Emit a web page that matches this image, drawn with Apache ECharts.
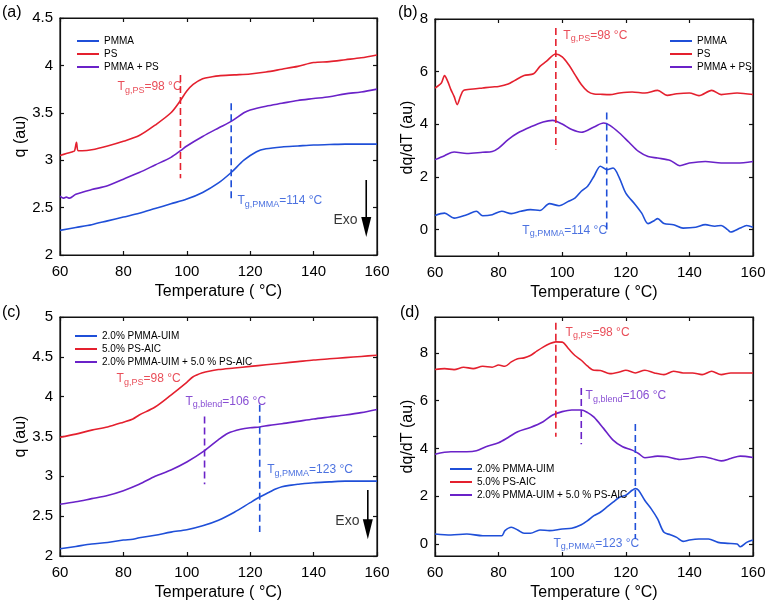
<!DOCTYPE html>
<html><head><meta charset="utf-8">
<script src="https://cdn.jsdelivr.net/npm/echarts@6/dist/echarts.min.js"></script>
<style>html,body{margin:0;padding:0;background:#fff}.c{width:769px;height:609px}</style>
</head><body><div class="c" id="c"></div>
<script>
// ---------- DATA ----------
const tempTicks = [60, 80, 100, 120, 140, 160];
const derivTicks = [0, 2, 4, 6, 8];
const seriesNamesAB = ['PMMA', 'PS', 'PMMA + PS'];
const seriesNamesCD = ['2.0% PMMA-UIM', '5.0% PS-AIC', '2.0% PMMA-UIM + 5.0 % PS-AIC'];

// (a) q vs T
const aPS_T = [60,62,64,64.6,65.2,65.7,67,70,75,80,85,90,95,98,100,102,105,108,110,115,120,125,130,135,140,145,150,155,160];
const aPS_q = [3.05,3.07,3.09,3.10,3.19,3.10,3.10,3.11,3.15,3.20,3.26,3.37,3.50,3.63,3.73,3.80,3.86,3.88,3.89,3.90,3.91,3.93,3.96,3.99,4.03,4.04,4.06,4.08,4.11];
const aBL_T = [60,61,62,63,65,70,75,80,85,90,95,98,100,105,110,114,118,120,125,130,135,140,145,150,155,160];
const aBL_q = [2.62,2.60,2.61,2.60,2.64,2.69,2.73,2.80,2.87,2.95,3.03,3.10,3.15,3.25,3.34,3.41,3.50,3.53,3.57,3.60,3.63,3.65,3.67,3.70,3.72,3.75];
const aPM_T = [60,65,70,75,80,85,90,95,100,105,110,114,118,122,125,130,135,140,145,150,155,160];
const aPM_q = [2.26,2.29,2.32,2.36,2.40,2.44,2.49,2.54,2.59,2.66,2.76,2.87,3.00,3.09,3.12,3.14,3.15,3.16,3.165,3.17,3.17,3.17];

// (b) dq/dT vs T
const bPS_T = [60,62,63,64,65,66,67,68,69,72,75,78,80,83,85,88,91,93,95,98,100,102,104,106,108,110,112,115,118,122,126,130,133,136,140,143,147,150,155,160];
const bPS_v = [5.38,5.57,5.85,5.63,5.32,5.06,4.75,5.06,5.29,5.34,5.38,5.42,5.44,5.53,5.66,5.85,5.92,6.20,6.39,6.67,6.56,6.27,5.89,5.51,5.25,5.15,5.14,5.13,5.19,5.23,5.19,5.29,5.10,5.16,5.19,5.09,5.29,5.13,5.19,5.13];
const bBL_T = [60,63,66,70,75,78,80,83,86,90,94,97,100,103,106,110,113,115,118,121,124,127,130,134,137,140,145,150,155,160];
const bBL_v = [2.66,2.81,2.95,2.89,2.94,2.97,3.10,3.42,3.67,3.90,4.09,4.15,4.01,3.80,3.70,3.90,4.05,3.96,3.67,3.32,2.97,2.78,2.72,2.63,2.43,2.53,2.59,2.53,2.53,2.59];
const bPM_T = [60,63,66,70,73,75,78,81,84,87,90,93,96,99,102,104,106,108,110,112,114,116,118,120,123,125,127,129,130,132,135,138,142,145,148,150,152,153,156,158,160];
const bPM_v = [0.54,0.63,0.44,0.57,0.70,0.53,0.57,0.70,0.61,0.70,0.76,0.73,0.99,0.91,1.08,1.20,1.46,1.65,2.03,2.41,2.28,2.34,1.96,1.39,0.95,0.63,0.23,0.35,0.42,0.23,0.19,0.06,0.09,0.19,0.13,0.16,0.0,-0.09,0.06,0.16,0.09];

// (c) q vs T
const cPS_T = [60,65,70,75,80,83,85,90,95,100,102,105,107,110,115,120,125,130,135,140,145,150,155,160];
const cPS_q = [3.49,3.53,3.58,3.62,3.68,3.72,3.77,3.87,4.02,4.18,4.25,4.30,4.32,4.34,4.36,4.38,4.40,4.42,4.44,4.46,4.475,4.49,4.505,4.52];
const cBL_T = [60,65,70,75,80,85,90,95,100,105.5,110,113,117,120,123,126,130,135,140,145,150,155,160];
const cBL_q = [2.65,2.68,2.72,2.76,2.82,2.90,3.00,3.08,3.18,3.32,3.46,3.54,3.59,3.61,3.62,3.64,3.66,3.69,3.72,3.745,3.77,3.80,3.84];
const cPM_T = [60,65,70,75,80,83,85,90,95,100,105,110,115,120,123,126,128,130,133,135,140,145,150,155,160];
const cPM_q = [2.09,2.12,2.15,2.17,2.20,2.21,2.23,2.26,2.30,2.33,2.38,2.45,2.55,2.67,2.74,2.80,2.84,2.87,2.89,2.90,2.92,2.93,2.94,2.94,2.94];

// (d) dq/dT vs T
const dPS_T = [60,63,66,69,72,75,78,80,82,84,86,88,90,92,94,96,98,100,102,104,106,108,110,112,115,118,120,123,126,129,132,135,138,141,144,147,150,153,156,160];
const dPS_v = [7.30,7.34,7.30,7.40,7.34,7.44,7.40,7.49,7.44,7.62,7.75,7.79,7.89,8.07,8.24,8.38,8.46,8.45,8.17,7.89,7.69,7.44,7.27,7.26,7.13,7.20,7.27,7.16,7.27,7.16,7.09,7.23,7.16,7.16,7.09,7.23,7.09,7.16,7.16,7.16];
const dBL_T = [60,65,70,73,76,80,83,86,90,94,97,100,103,106,108,110,113,116,119,122,124,126,130,133,137,140,144,147,150,153,156,160];
const dBL_v = [3.76,3.86,3.86,3.90,4.07,4.24,4.46,4.70,4.88,5.12,5.40,5.54,5.61,5.61,5.50,5.31,4.84,4.35,4.07,3.93,3.79,3.61,3.68,3.65,3.54,3.58,3.65,3.58,3.48,3.58,3.68,3.62];
const dPM_T = [60,65,70,75,79,81,82,84,86,88,90,93,96,100,103,106,108,110,112,114,116,118,120,122,123,124,126,128,130,132,134,136,138,140,143,146,149,152,155,156,158,160];
const dPM_v = [0.42,0.38,0.42,0.35,0.35,0.35,0.56,0.70,0.59,0.45,0.45,0.59,0.56,0.63,0.66,0.81,0.98,1.19,1.33,1.54,1.75,1.96,2.04,2.25,2.32,2.25,1.82,1.47,1.05,0.49,0.39,0.28,0.11,0.17,0.21,0.21,0.07,0.03,0.0,-0.11,0.07,0.17];

// Glass transition temperatures and marker extents [T, yTop, yBottom]
const aTgPS = [98, 3.90, 2.81];
const aTgPMMA = [114, 3.60, 2.59];
const bTgPS = [98, 7.66, 3.04];
const bTgPMMA = [114, 4.45, 0.0];
const cTgBlend = [105.6, 3.75, 2.90];
const cTgPMMA = [123, 3.90, 2.30];
const dTgPS = [98, 9.26, 4.49];
const dTgBlend = [106, 6.53, 4.18];
const dTgPMMA = [123, 5.02, 0.21];

// ---------- CHART ----------
const F = '"Liberation Sans", Arial, sans-serif';
const BLUE = '#1f4fd8', RED = '#e4202e', PURPLE = '#6a22c8', INK = '#111111';
const zip = (a, b) => a.map((x, i) => [x, b[i]]);

const grids = [
  {left: 60, top: 18, width: 317, height: 237},
  {left: 435, top: 19, width: 318, height: 237},
  {left: 60, top: 317, width: 317, height: 239},
  {left: 435, top: 317, width: 318, height: 239}
].map(g => Object.assign(g, {show: true, borderColor: INK, borderWidth: 1.2, backgroundColor: 'transparent'}));
const yCfg = [
  {min: 2, max: 4.5, interval: 0.5, name: 'q (au)', gap: 30},
  {min: -1, max: 8, custom: derivTicks, name: 'dq/dT (au)', gap: 17},
  {min: 2, max: 5, interval: 0.5, name: 'q (au)', gap: 30},
  {min: -0.5, max: 9.5, custom: derivTicks, name: 'dq/dT (au)', gap: 17}
];
const axLine = () => ({show: true, onZero: false, lineStyle: {color: INK, width: 1.2}});
const tickX = () => ({show: true, inside: true, length: 4, lineStyle: {color: INK, width: 1.2}});
const xAxis = [], yAxis = [];
grids.forEach((g, i) => {
  xAxis.push({gridIndex: i, type: 'value', min: tempTicks[0], max: tempTicks[tempTicks.length - 1], interval: 20,
    position: 'bottom', axisLine: axLine(), axisTick: tickX(),
    axisLabel: {show: true, fontSize: 15, color: '#000', margin: 9, fontFamily: F}, splitLine: {show: false},
    name: 'Temperature ( °C)', nameLocation: 'middle', nameGap: 29,
    nameTextStyle: {fontSize: 16, color: '#000', fontFamily: F}});
  xAxis.push({gridIndex: i, type: 'value', min: tempTicks[0], max: tempTicks[tempTicks.length - 1], interval: 20,
    position: 'top', axisLine: axLine(), axisTick: tickX(), axisLabel: {show: false}, splitLine: {show: false}});
  const c = yCfg[i];
  ['left', 'right'].forEach(pos => {
    const tick = tickX(); if (c.custom) tick.customValues = c.custom;
    const lab = pos === 'left' ? {show: true, fontSize: 15, color: '#000', margin: 7, fontFamily: F} : {show: false};
    if (c.custom) lab.customValues = c.custom;
    const ax = {gridIndex: i, type: 'value', min: c.min, max: c.max, position: pos, splitLine: {show: false},
      axisLine: axLine(), axisTick: tick, axisLabel: lab};
    if (c.interval) ax.interval = c.interval;
    if (pos === 'left') Object.assign(ax, {name: c.name, nameLocation: 'middle', nameGap: c.gap, nameRotate: 90,
      nameTextStyle: {fontSize: 16, color: '#000', fontFamily: F}});
    yAxis.push(ax);
  });
});

const series = [];
function curve(g, name, T, v, color) {
  series.push({type: 'line', name, xAxisIndex: 2 * g, yAxisIndex: 2 * g, data: zip(T, v), color,
    symbol: 'none', smooth: 0.3, lineStyle: {width: 1.6, color}, silent: true, z: 3});
}
function dash(g, m, color) {
  series.push({type: 'line', xAxisIndex: 2 * g, yAxisIndex: 2 * g, data: [[m[0], m[1]], [m[0], m[2]]],
    symbol: 'none', lineStyle: {width: 1.6, color, type: [7, 4]}, silent: true, z: 4});
}
function tgLabel(g, T, v, color, sub, rest) {
  series.push({type: 'scatter', xAxisIndex: 2 * g, yAxisIndex: 2 * g, data: [[T, v]], symbolSize: 1,
    itemStyle: {color: 'rgba(0,0,0,0)'}, silent: true, z: 5,
    label: {show: true, position: 'right', distance: 0, formatter: '{m|T}{s|' + sub + '}{m|' + rest + '}',
      rich: {m: {fontSize: 12, lineHeight: 14, verticalAlign: 'top', color, fontFamily: F},
             s: {fontSize: 9, lineHeight: 10, padding: [9, 0, 0, 0], verticalAlign: 'bottom', color, fontFamily: F}}}});
}
function exo(g, x, yTop, yHead, tx, ty) {
  series.push({type: 'line', xAxisIndex: 2 * g, yAxisIndex: 2 * g, silent: true, z: 5,
    data: [{value: [x, yTop], symbol: 'none'}, {value: [x, yHead], symbol: 'triangle', symbolSize: [10, 20], symbolRotate: 180}],
    showSymbol: true, lineStyle: {width: 1.6, color: '#000'}, itemStyle: {color: '#000'}});
  series.push({type: 'scatter', xAxisIndex: 2 * g, yAxisIndex: 2 * g, data: [[tx, ty]], symbolSize: 1,
    itemStyle: {color: 'rgba(0,0,0,0)'}, silent: true, z: 5,
    label: {show: true, position: 'right', distance: 0, formatter: 'Exo', fontSize: 14, color: '#000', fontFamily: F}});
}

// (a)
curve(0, seriesNamesAB[0], aPM_T, aPM_q, BLUE);
curve(0, seriesNamesAB[1], aPS_T, aPS_q, RED);
curve(0, seriesNamesAB[2], aBL_T, aBL_q, PURPLE);
dash(0, aTgPS, RED); dash(0, aTgPMMA, BLUE);
tgLabel(0, 78.0, 3.76, RED, 'g,PS', '=' + aTgPS[0] + ' °C');
tgLabel(0, 115.8, 2.56, BLUE, 'g,PMMA', '=' + aTgPMMA[0] + ' °C');
exo(0, 156.6, 2.79, 2.295, 146.1, 2.37);
// (b)
curve(1, seriesNamesAB[0], bPM_T, bPM_v, BLUE);
curve(1, seriesNamesAB[1], bPS_T, bPS_v, RED);
curve(1, seriesNamesAB[2], bBL_T, bBL_v, PURPLE);
dash(1, bTgPS, RED); dash(1, bTgPMMA, BLUE);
tgLabel(1, 100.2, 7.34, RED, 'g,PS', '=' + bTgPS[0] + ' °C');
tgLabel(1, 87.3, -0.07, BLUE, 'g,PMMA', '=' + bTgPMMA[0] + ' °C');
// (c)
curve(2, seriesNamesCD[0], cPM_T, cPM_q, BLUE);
curve(2, seriesNamesCD[1], cPS_T, cPS_q, RED);
curve(2, seriesNamesCD[2], cBL_T, cBL_q, PURPLE);
dash(2, cTgBlend, PURPLE); dash(2, cTgPMMA, BLUE);
tgLabel(2, 77.7, 4.21, RED, 'g,PS', '=98 °C');
tgLabel(2, 99.4, 3.93, PURPLE, 'g,blend', '=106 °C');
tgLabel(2, 125.2, 3.07, BLUE, 'g,PMMA', '=' + cTgPMMA[0] + ' °C');
exo(2, 157.1, 2.83, 2.335, 146.7, 2.44);
// (d)
curve(3, seriesNamesCD[0], dPM_T, dPM_v, BLUE);
curve(3, seriesNamesCD[1], dPS_T, dPS_v, RED);
curve(3, seriesNamesCD[2], dBL_T, dBL_v, PURPLE);
dash(3, dTgPS, RED); dash(3, dTgBlend, PURPLE); dash(3, dTgPMMA, BLUE);
tgLabel(3, 100.9, 8.82, RED, 'g,PS', '=' + dTgPS[0] + ' °C');
tgLabel(3, 107.2, 6.15, PURPLE, 'g,blend', '=' + dTgBlend[0] + ' °C');
tgLabel(3, 97.1, -0.01, BLUE, 'g,PMMA', '=' + dTgPMMA[0] + ' °C');

const lb = {orient: 'vertical', icon: 'rect', itemWidth: 22, itemHeight: 2, itemGap: 1, selectedMode: false,
  textStyle: {fontSize: 10, lineHeight: 12, color: '#000', fontFamily: F}};
const legend = [
  Object.assign({}, lb, {left: 72, top: 30, data: seriesNamesAB}),
  Object.assign({}, lb, {left: 665, top: 30, data: seriesNamesAB}),
  Object.assign({}, lb, {left: 70, top: 325, data: seriesNamesCD}),
  Object.assign({}, lb, {left: 445, top: 458, data: seriesNamesCD})
];
const pl = (t, x, y) => ({type: 'text', left: x, top: y, style: {text: t, fontSize: 16, fill: '#000', fontFamily: F}});

echarts.init(document.getElementById('c'), null, {renderer: 'canvas'}).setOption({
  animation: false, backgroundColor: '#fff',
  grid: grids, xAxis, yAxis, series, legend,
  graphic: [pl('(a)', 2, 5), pl('(b)', 398, 5), pl('(c)', 2, 305), pl('(d)', 400, 305)]
});
</script></body></html>
